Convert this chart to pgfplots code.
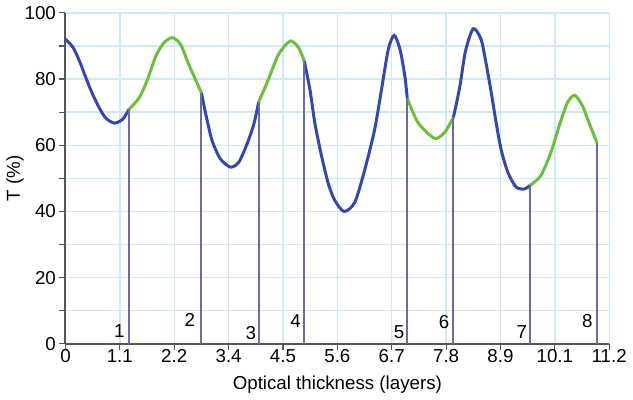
\documentclass[border=0pt]{standalone}
\usepackage{fontspec}
\setmainfont{Liberation Sans}
\usepackage{pgfplots}
\pgfplotsset{compat=1.18}
\definecolor{curveblue}{HTML}{3548A8}
\definecolor{curvegreen}{HTML}{6CBF3C}
\definecolor{stemcol}{HTML}{6B6BA3}
\definecolor{gridblue}{HTML}{CDE9F6}
\definecolor{axgray}{HTML}{555555}
\begin{document}
\fontsize{9.4}{11}\selectfont
\begin{tikzpicture}
\begin{axis}[scale only axis,width=273pt,height=166.2pt,
  xmin=0,xmax=11.2,ymin=0,ymax=100,
  axis lines=left,axis line style={axgray,line width=1pt,-},
  xtick={0,1.12,2.24,3.36,4.48,5.6,6.72,7.84,8.96,10.08,11.2},
  xticklabels={0,1.1,2.2,3.4,4.5,5.6,6.7,7.8,8.9,10.1,11.2},
  ytick={0,20,40,60,80,100},minor ytick={10,30,50,70,90},
  grid=both,major grid style={gridblue,line width=0.7pt},minor grid style={gridblue,line width=0.7pt},
  tick align=outside,major tick length=3pt,minor tick length=3pt,tick style={axgray,line width=0.6pt},
  /pgf/number format/assume math mode=true,
  xticklabel style={yshift=3.5pt},yticklabel style={xshift=1.5pt},
  xlabel={Optical thickness (layers)},ylabel={T (\%)},
  ylabel style={yshift=-6pt},
  every axis plot/.append style={no markers}]
% blue and green parts of the transmittance curve
\addplot[curveblue,line width=1.5pt,smooth,tension=0.45] coordinates {(0,92.0) (0.15,89.7) (0.29,85.4) (0.42,80.4) (0.56,75.4) (0.70,71.2) (0.83,68.2) (1.01,66.7) (1.18,67.9) (1.31,70.9)};
\addplot[curvegreen,line width=1.5pt,smooth,tension=0.45] coordinates {(1.31,70.9) (1.52,74.4) (1.69,79.9) (1.86,86.9) (2.03,91.0) (2.20,92.5) (2.37,90.5) (2.54,84.4) (2.80,75.9)};
\addplot[curveblue,line width=1.5pt,smooth,tension=0.45] coordinates {(2.80,75.9) (2.89,69.4) (3.02,61.4) (3.19,55.9) (3.40,53.4) (3.57,54.9) (3.74,60.4) (3.88,66.4) (3.98,73.1)};
\addplot[curvegreen,line width=1.5pt,smooth,tension=0.45] coordinates {(3.98,73.1) (4.18,79.9) (4.39,87.5) (4.63,91.5) (4.80,89.5) (4.92,85.5)};
\addplot[curveblue,line width=1.5pt,smooth,tension=0.45] coordinates {(4.92,85.5) (5.04,76.4) (5.14,66.4) (5.28,56.4) (5.42,48.1) (5.55,43.3) (5.74,40.0) (5.96,42.8) (6.17,52.9) (6.37,64.9) (6.51,76.9) (6.65,89.0) (6.77,93.2) (6.89,89.0) (6.99,80.9) (7.04,74.2)};
\addplot[curvegreen,line width=1.5pt,smooth,tension=0.45] coordinates {(7.04,74.2) (7.26,66.9) (7.60,62.1) (7.81,63.9) (7.99,68.4)};
\addplot[curveblue,line width=1.5pt,smooth,tension=0.45] coordinates {(7.99,68.4) (8.12,77.5) (8.24,88.5) (8.40,95.2) (8.56,92.0) (8.66,85.0) (8.77,75.9) (8.87,66.9) (8.97,58.9) (9.11,51.9) (9.28,47.4) (9.45,46.8) (9.57,47.9)};
\addplot[curvegreen,line width=1.5pt,smooth,tension=0.45] coordinates {(9.57,47.9) (9.79,50.8) (10.00,57.9) (10.17,65.9) (10.34,72.9) (10.49,75.1) (10.65,71.9) (10.78,66.9) (10.95,60.7)};
% layer boundaries
\addplot[ycomb,stemcol,line width=1pt] coordinates {(1.31,70.9) (2.80,75.9) (3.98,73.1) (4.92,85.5) (7.04,74.2) (7.99,68.4) (9.57,47.9) (10.95,60.7)};
\node at (axis cs:1.11,3.8) {1};
\node at (axis cs:2.56,7.1) {2};
\node at (axis cs:3.82,3.2) {3};
\node at (axis cs:4.74,6.8) {4};
\node at (axis cs:6.87,3.5) {5};
\node at (axis cs:7.80,6.5) {6};
\node at (axis cs:9.40,3.5) {7};
\node at (axis cs:10.75,6.8) {8};
\end{axis}
\end{tikzpicture}
\end{document}
